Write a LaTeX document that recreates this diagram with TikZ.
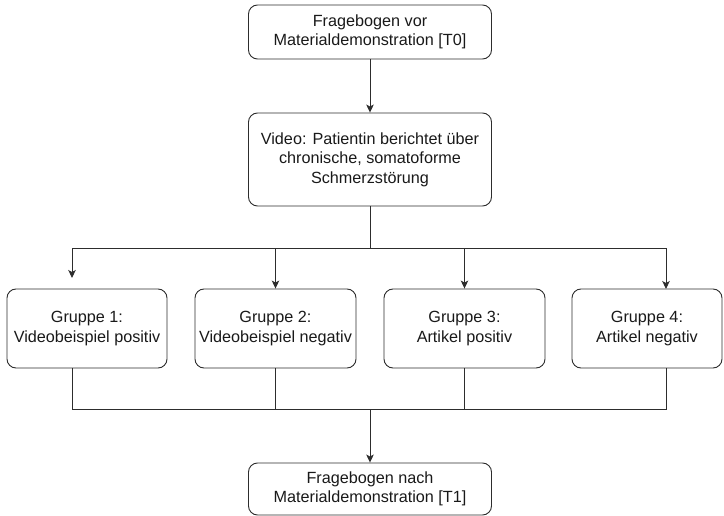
\documentclass[tikz,border=0pt]{standalone}
\usepackage{fontspec}
\setmainfont{Liberation Sans}
\usetikzlibrary{arrows.meta}

\definecolor{linegray}{RGB}{45,45,45}
\definecolor{textgray}{RGB}{25,25,25}

\begin{document}
\begin{tikzpicture}[x=1pt, y=-1pt, >={Stealth[length=8pt,width=7.5pt,inset=2pt]},
	box/.style={draw=linegray, line width=0.9pt, rounded corners=9pt, align=center,
		inner sep=0pt, text=textgray, font=\fontsize{16.2}{19.5}\selectfont},
	link/.style={draw=linegray, line width=0.9pt}]

\useasboundingbox (0,0) rectangle (724,516);

\node[box, minimum width=243pt, minimum height=54pt] (t0) at (370,32)
	{Fragebogen vor\\Materialdemonstration [T0]};
\node[box, minimum width=243pt, minimum height=93pt] (video) at (370,159.5)
	{Video: Patientin berichtet über\\chronische, somatoforme\\Schmerzstörung};

% vier Gruppen
\foreach \i/\x/\w/\txt in {1/87/160/{Gruppe 1:\\Videobeispiel positiv},
		2/275.5/161/{Gruppe 2:\\Videobeispiel negativ},
		3/464.5/161/{Gruppe 3:\\Artikel positiv},
		4/647/150/{Gruppe 4:\\Artikel negativ}}{
	\node[box, minimum width=\w pt, minimum height=79pt] (g\i) at (\x,328.5) {\txt};
}

\node[box, minimum width=243pt, minimum height=52pt] (t1) at (370,489)
	{Fragebogen nach\\Materialdemonstration [T1]};

\coordinate (split) at (370,248);
\coordinate (merge) at (370,409);
\coordinate (in1) at (72,278);
\coordinate (in4) at (666,289);

\draw[link, ->] (t0) -- (video);
\draw[link] (video) -- (split);
\draw[link, ->] (split) -| (in1);
\draw[link, ->] (split) -| (g2.north);
\draw[link, ->] (split) -| (g3.north);
\draw[link, ->] (split) -| (in4);

\draw[link] (in1 |- g1.south) |- (merge);
\draw[link] (g2.south) |- (merge);
\draw[link] (g3.south) |- (merge);
\draw[link] (in4 |- g4.south) |- (merge);
\draw[link, ->] (merge) -- (t1);

\end{tikzpicture}
\end{document}
